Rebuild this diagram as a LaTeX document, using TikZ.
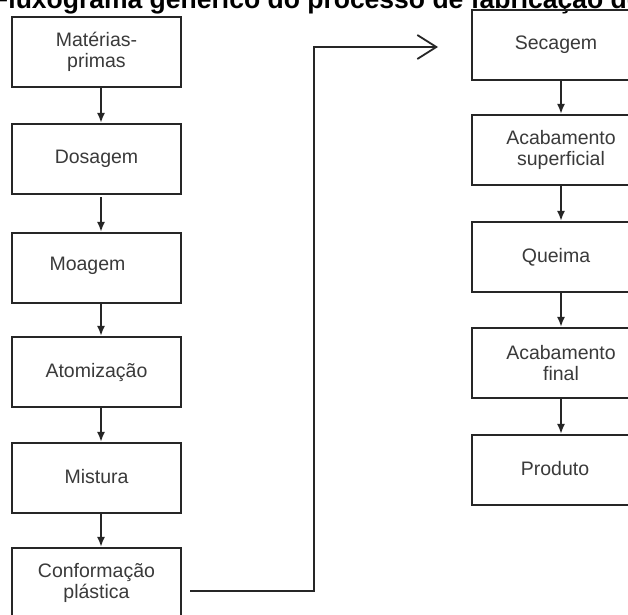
\documentclass[tikz,border=0pt]{standalone}
\usepackage{fontspec}
\setmainfont{Liberation Sans}
\usetikzlibrary{arrows.meta,calc}
\definecolor{boxline}{HTML}{262626}
\definecolor{boxtext}{HTML}{3A3A3A}
\begin{document}
\begin{tikzpicture}[x=1pt,y=-1pt,
  stepbox/.style={draw=boxline,line width=2.2pt,minimum width=169pt,minimum height=70pt,
    inner sep=0pt,align=center,text=boxtext,font=\fontsize{19.5}{21.5}\selectfont},
  rbox/.style={stepbox,minimum width=178pt},
  flow/.style={draw=boxline,line width=1.8pt,-{Latex[length=10pt,width=8pt]}},
  bigflow/.style={draw=boxline,line width=1.8pt,-{Straight Barb[length=19pt,width=24pt,line width=1.8pt]}}]
\useasboundingbox (0,0) rectangle (628,614);
\fill[white] (0,0) rectangle (628,614);
% title (clipped by page edge, as in the reference)
\node[anchor=base west,inner sep=0pt,font=\fontsize{26.5}{30}\selectfont\bfseries,text=black] (title) at (-8,8)
  {Fluxograma genérico do processo de fabricação de};
% left column
\node[stepbox] (mat) at (96.5,52) {Matérias-\\primas};
\node[stepbox] (dos) at (96.5,159) {\raisebox{2pt}{Dosagem}};
\node[stepbox] (moa) at (96.5,268) {\raisebox{9pt}{Moagem}\hspace{18pt}};
\node[stepbox] (ato) at (96.5,372) {\raisebox{3pt}{Atomização}};
\node[stepbox] (mis) at (96.5,478) {\raisebox{4pt}{Mistura}};
\node[stepbox] (con) at (96.5,583) {Conformação\\plástica};
% right column
\node[rbox] (sec) at (561,45) {\raisebox{3pt}{Secagem}\hspace{10pt}};
\node[rbox] (acs) at (561,150) {Acabamento\\superficial\hspace{10pt}};
\node[rbox] (que) at (561,257) {\raisebox{4pt}{Queima}\hspace{10pt}};
\node[rbox] (acf) at (561,363) {\raisebox{-2pt}{Acabamento}\\\raisebox{-2pt}{final}\hspace{10pt}};
\node[rbox] (pro) at (561,470) {\raisebox{4pt}{Produto}\hspace{12pt}};
% left arrows
\draw[flow] ([xshift=4.5pt]mat.south) -- ([xshift=4.5pt]dos.north);
\draw[flow] ([xshift=4.5pt,yshift=-2pt]dos.south) -- ([xshift=4.5pt]moa.north);
\draw[flow] ([xshift=4.5pt]moa.south) -- ([xshift=4.5pt]ato.north);
\draw[flow] ([xshift=4.5pt]ato.south) -- ([xshift=4.5pt]mis.north);
\draw[flow] ([xshift=4.5pt]mis.south) -- ([xshift=4.5pt]con.north);
% right arrows
\draw[flow] (sec.south) -- (acs.north);
\draw[flow] (acs.south) -- (que.north);
\draw[flow] (que.south) -- (acf.north);
\draw[flow] (acf.south) -- (pro.north);
% long connector
\coordinate (cstart) at (190,591);
\coordinate (bend) at (314,47);
\coordinate (cend) at (438,47);
\draw[bigflow] (cstart) -| (bend) -- (cend);
\end{tikzpicture}
\end{document}
